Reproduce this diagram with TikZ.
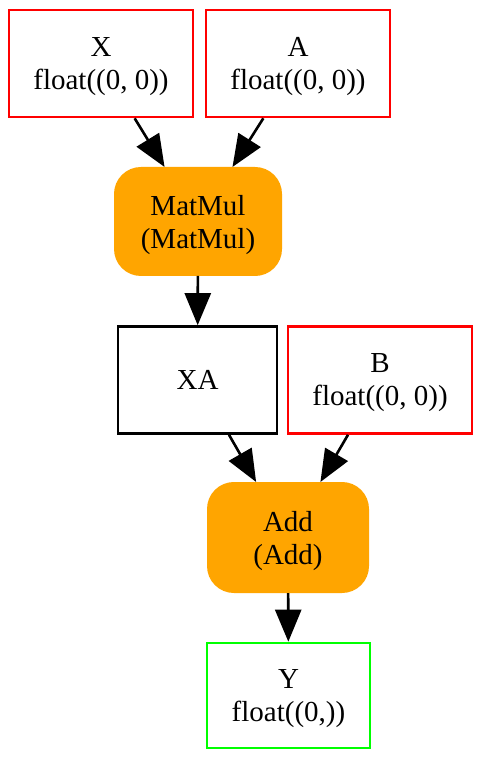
\documentclass[tikz,border=0pt]{standalone}
\usepackage{fontspec}
\setmainfont{Liberation Serif}
\usetikzlibrary{arrows.meta}
\definecolor{gvorange}{HTML}{FFA500}
\definecolor{gvred}{HTML}{FF0000}
\definecolor{gvgreen}{HTML}{00FF00}
\begin{document}
\begin{tikzpicture}[x=0.5pt,y=-0.5pt,
  lbl/.style={font=\fontsize{14.5}{16.5}\selectfont, align=center, inner sep=0pt, text depth=0pt},
  tensor/.style={lbl, draw, line width=1.3pt, rectangle, minimum height=53.5pt},
  op/.style={lbl, fill=gvorange, draw=gvorange, line width=1pt, rounded corners=13pt, rectangle, minimum height=53.5pt},
  edge/.style={line width=1.3pt, -{Triangle[length=16pt,width=13pt]}}]
\useasboundingbox (0,0) rectangle (489,763);
\fill[white] (0,0) rectangle (489,763);
\node[tensor, draw=gvred, minimum width=92pt] (X) at (101,63.5) {X\\float((0, 0))};
\node[tensor, draw=gvred, minimum width=92pt] (A) at (298,63.5) {A\\float((0, 0))};
\node[op, minimum width=83pt] (MatMul) at (198,221.5) {MatMul\\(MatMul)};
\node[tensor, draw=black, minimum width=79.5pt] (XA) at (197.5,380) {XA};
\node[tensor, draw=gvred, minimum width=92pt] (B) at (380,380) {B\\float((0, 0))};
\node[op, minimum width=80pt, minimum height=54.5pt] (Add) at (288,537.5) {Add\\(Add)};
\node[tensor, draw=gvgreen, minimum width=81.5pt, minimum height=52.5pt] (Y) at (288.5,695.5) {Y\\float((0,))};
\draw[edge] (X) -- (MatMul);
\draw[edge] (A) -- (MatMul);
\draw[edge] (MatMul) -- (XA);
\draw[edge] (XA) -- (Add);
\draw[edge] (B) -- (Add);
\draw[edge] (Add) -- (Y);
\end{tikzpicture}
\end{document}
